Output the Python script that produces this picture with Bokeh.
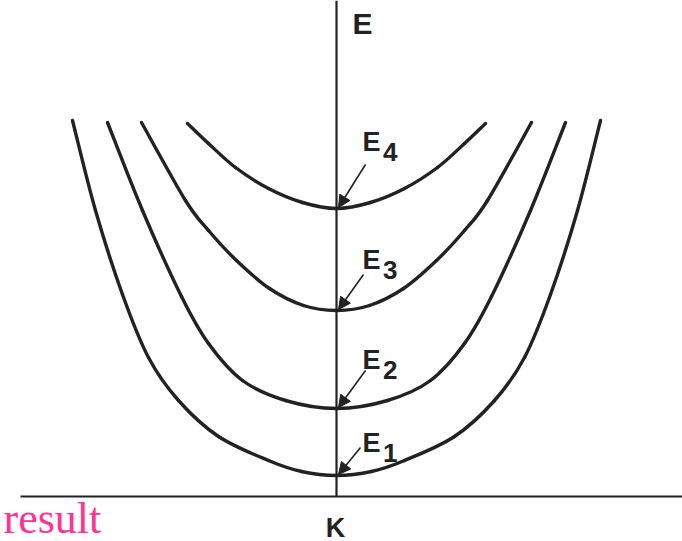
from bokeh.plotting import figure
from bokeh.models import Range1d, Arrow, NormalHead
from bokeh.core.properties import value
from bokeh.embed import file_html
from bokeh.resources import INLINE

# Band dispersion curves E(K), read on the K >= 0 side (symmetric in K)
k_e1 = [0.0, 0.35, 0.68, 1.18, 1.58, 1.88, 2.14, 2.41, 2.64]
e_e1 = [0.21, 0.25, 0.36, 0.60, 0.96, 1.39, 2.02, 2.86, 3.76]

k_e2 = [0.0, 0.51, 0.94, 1.28, 1.55, 1.94, 2.29]
e_e2 = [0.88, 0.96, 1.16, 1.53, 2.00, 2.86, 3.74]

k_e3 = [0.0, 0.33, 0.67, 1.00, 1.28, 1.51, 1.95]
e_e3 = [1.86, 1.91, 2.08, 2.36, 2.66, 2.96, 3.74]

k_e4 = [0.0, 0.34, 0.68, 1.01, 1.28, 1.49]
e_e4 = [2.88, 2.94, 3.08, 3.29, 3.53, 3.73]

band_names = ["1", "2", "3", "4"]

INK = "#222222"
LABEL_FONT = value("Liberation Sans")

p = figure(width=682, height=541, output_backend="svg", toolbar_location=None,
           x_range=Range1d(-3.36, 3.46), y_range=Range1d(-0.45, 4.96),
           min_border=0, background_fill_color="white",
           border_fill_color="white", outline_line_color=None)
p.axis.visible = False
p.grid.visible = False

# axes
p.line([-3.16, 3.46], [0, 0], line_color=INK, line_width=2.2)
p.line([0, 0], [0, 4.96], line_color=INK, line_width=2.2)


def smooth_segments(xs, ys):
    """Cubic (Catmull-Rom style) segments through the given points."""
    n = len(xs)
    seg = dict(x0=[], y0=[], x1=[], y1=[], cx0=[], cy0=[], cx1=[], cy1=[])
    for i in range(n - 1):
        i0, i3 = max(i - 1, 0), min(i + 2, n - 1)
        seg["x0"].append(xs[i]); seg["y0"].append(ys[i])
        seg["x1"].append(xs[i + 1]); seg["y1"].append(ys[i + 1])
        seg["cx0"].append(xs[i] + (xs[i + 1] - xs[i0]) / 6)
        seg["cy0"].append(ys[i] + (ys[i + 1] - ys[i0]) / 6)
        seg["cx1"].append(xs[i + 1] - (xs[i3] - xs[i]) / 6)
        seg["cy1"].append(ys[i + 1] - (ys[i3] - ys[i]) / 6)
    return seg


bands = [(k_e1, e_e1), (k_e2, e_e2), (k_e3, e_e3), (k_e4, e_e4)]
for ks, es in bands:
    kk = [-k for k in ks[::-1]] + ks[1:]
    ee = es[::-1] + es[1:]
    p.bezier(**smooth_segments(kk, ee), line_color=INK, line_width=3.4, line_cap="round")

# arrows from each label to its band minimum, and the labels
offsets = [(0.22, 0.27), (0.27, 0.37), (0.25, 0.35), (0.27, 0.43)]
label_pos = [(0.26, 0.54), (0.26, 1.37), (0.26, 2.37), (0.26, 3.55)]
for (ks, es), (dx, dy), name, (lx, ly) in zip(bands, offsets, band_names, label_pos):
    tip_x, tip_y = 0.02, es[0] + 0.01
    p.add_layout(Arrow(end=NormalHead(size=12, fill_color=INK, line_color=INK, line_width=1),
                       x_start=tip_x + dx, y_start=tip_y + dy, x_end=tip_x, y_end=tip_y,
                       line_color=INK, line_width=1.6))
    p.text(x=[lx], y=[ly], text=["E"], text_font=LABEL_FONT, text_font_style="bold",
           text_font_size="27px", text_color=INK, text_baseline="alphabetic",
           text_align="left")
    p.text(x=[lx + 0.205], y=[ly - 0.10], text=[name], text_font=LABEL_FONT,
           text_font_style="bold", text_font_size="26px", text_color=INK,
           text_baseline="alphabetic", text_align="left")

# axis titles
p.text(x=[0.16], y=[4.73], text=["E"], text_font=LABEL_FONT, text_font_style="bold",
       text_font_size="30px", text_color=INK, text_baseline="alphabetic")
p.text(x=[-0.01], y=[-0.31], text=["K"], text_font=LABEL_FONT, text_font_style="bold",
       text_font_size="27px", text_color=INK, text_baseline="alphabetic",
       text_align="center")

p.text(x=[-3.33], y=[-0.22], text=["result"], text_font=value("Liberation Serif"),
       text_font_size="44px", text_color="#ff3393", text_baseline="alphabetic")

open("out.html", "w").write(file_html(p, INLINE))
